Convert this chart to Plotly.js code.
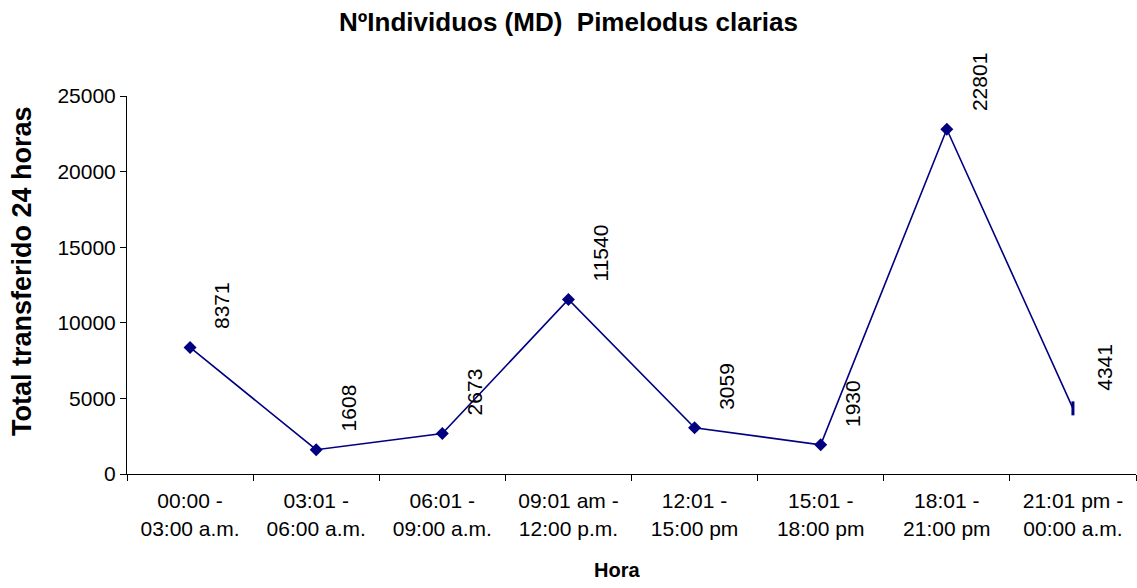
<!DOCTYPE html>
<html>
<head>
<meta charset="utf-8">
<script src="https://cdn.plot.ly/plotly-3.0.1.min.js"></script>
<style>
  html, body { margin: 0; padding: 0; background: #ffffff; }
  #chart { width: 1137px; height: 588px; }
</style>
</head>
<body>
<div id="chart"></div>
<script>
// Time windows of the 24-hour sampling and individuals transferred in each
const periods = [
  "00:00 -<br>03:00 a.m.",
  "03:01 -<br>06:00 a.m.",
  "06:01 -<br>09:00 a.m.",
  "09:01 am -<br>12:00 p.m.",
  "12:01 -<br>15:00 pm",
  "15:01 -<br>18:00 pm",
  "18:01 -<br>21:00 pm",
  "21:01 pm -<br>00:00 a.m."
];
const individuals = [8371, 1608, 2673, 11540, 3059, 1930, 22801, 4341];
const yTicks = [0, 5000, 10000, 15000, 20000, 25000];

const navy = "#000080";
const font = "Liberation Sans, Arial, sans-serif";

const symbols = individuals.map((v, i) => i === individuals.length - 1 ? "line-ns" : "diamond");
const lineWidths = individuals.map((v, i) => i === individuals.length - 1 ? 3 : 0);

const trace = {
  type: "scatter",
  mode: "lines+markers",
  x: periods,
  y: individuals,
  line: { color: navy, width: 1.6 },
  marker: {
    color: navy,
    size: 10,
    symbol: symbols,
    line: { color: navy, width: lineWidths }
  },
  hoverinfo: "x+y",
  cliponaxis: false
};

// Vertical value labels above and to the right of each point
const labels = individuals.map((v, i) => ({
  x: periods[i],
  y: v,
  xref: "x",
  yref: "y",
  text: String(v),
  showarrow: false,
  textangle: -90,
  xanchor: "center",
  yanchor: "bottom",
  xshift: 32,
  yshift: 16,
  font: { family: font, size: 21, color: "#000000" }
}));

// Axis titles placed as paper annotations
labels.push({
  xref: "paper", yref: "paper",
  x: -0.104, y: 0.537,
  xanchor: "center", yanchor: "middle",
  text: "Total transferido 24 horas",
  textangle: -90,
  showarrow: false,
  font: { family: font, size: 27, color: "#000000", weight: "bold" }
});
labels.push({
  xref: "paper", yref: "paper",
  x: 0.4856, y: -0.254,
  xanchor: "center", yanchor: "middle",
  text: "Hora",
  showarrow: false,
  font: { family: font, size: 20, color: "#000000", weight: "bold" }
});

const layout = {
  width: 1137,
  height: 588,
  paper_bgcolor: "#ffffff",
  plot_bgcolor: "#ffffff",
  margin: { l: 127, r: 1, t: 96, b: 114 },
  showlegend: false,
  title: {
    text: "NºIndividuos (MD)\u00a0 Pimelodus clarias",
    font: { family: font, size: 26, color: "#000000", weight: "bold" },
    x: 0.5,
    xanchor: "center",
    y: 0.962,
    yanchor: "middle"
  },
  xaxis: {
    type: "category",
    range: [-0.5, 7.5],
    tickson: "boundaries",
    ticks: "outside",
    ticklen: 6,
    tickcolor: "#000000",
    tickwidth: 1,
    ticklabelstandoff: 8,
    showline: true,
    linecolor: "#000000",
    linewidth: 1,
    showgrid: false,
    zeroline: false,
    tickfont: { family: font, size: 21, color: "#000000" }
  },
  yaxis: {
    range: [0, 25000],
    tickvals: yTicks,
    ticktext: yTicks.map(String),
    ticks: "outside",
    ticklen: 6,
    tickcolor: "#000000",
    tickwidth: 1,
    showline: true,
    linecolor: "#000000",
    linewidth: 1,
    showgrid: false,
    zeroline: false,
    tickfont: { family: font, size: 21, color: "#000000" }
  },
  annotations: labels
};

Plotly.newPlot("chart", [trace], layout, { displayModeBar: false, staticPlot: true });
</script>
</body>
</html>
